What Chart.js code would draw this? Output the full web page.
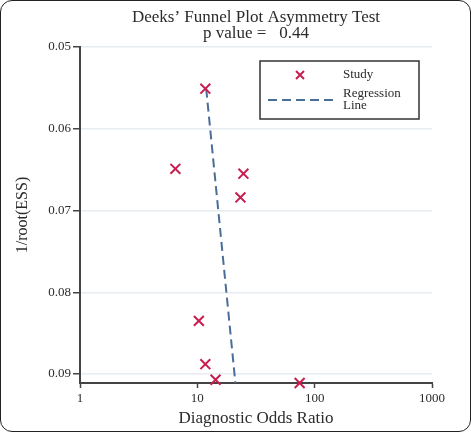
<!DOCTYPE html>
<html>
<head>
<meta charset="utf-8">
<script src="https://cdn.jsdelivr.net/npm/chart.js@4.4.0/dist/chart.umd.min.js"></script>
<style>
  body { margin: 0; background: #fff; }
  #wrap { position: relative; width: 471px; height: 432px; }
  #frame { position: absolute; left: 0; top: 0; width: 469px; height: 430px; border: 1px solid #222; border-radius: 12px; pointer-events: none; }
</style>
</head>
<body>
<div id="wrap">
  <canvas id="chart" width="471" height="432"></canvas>
  <div id="frame"></div>
</div>
<script>
// Deeks' funnel plot data
var studyDOR = [11.7, 6.5, 24.7, 23.3, 10.3, 11.7, 14.3, 74.5];
var studyInvRootESS = [0.0551, 0.0649, 0.0655, 0.0684, 0.0835, 0.0888, 0.0907, 0.0911];
var regressionDOR = [11.9, 21.1];
var regressionInvRootESS = [0.0551, 0.0911];
var xTicks = [1, 10, 100, 1000];
var yTicks = [0.05, 0.06, 0.07, 0.08, 0.09];
var titleLines = ["Deeks\u2019 Funnel Plot Asymmetry Test", "p value =   0.44"];

var serif = "'Liberation Serif', 'DejaVu Serif', serif";
var textColor = '#2b2b2b';
var studyColor = '#c81d4f';
var lineColor = '#4a6e98';

var studyPoints = studyDOR.map(function (x, i) { return { x: x, y: studyInvRootESS[i] }; });
var regressionPoints = regressionDOR.map(function (x, i) { return { x: x, y: regressionInvRootESS[i] }; });

// title + boxed legend, drawn on the canvas
var decorPlugin = {
  id: 'decor',
  afterDraw: function (chart) {
    var ctx = chart.ctx;
    var area = chart.chartArea;
    var cx = (area.left + area.right) / 2;
    ctx.save();
    ctx.fillStyle = textColor;
    ctx.font = '17px ' + serif;
    ctx.textAlign = 'center';
    ctx.textBaseline = 'middle';
    ctx.fillText(titleLines[0], cx, 18);
    ctx.fillText(titleLines[1], cx, 34);

    // legend box
    var bx = area.left + 180, by = area.top + 14, bw = 159, bh = 58;
    ctx.strokeStyle = '#333';
    ctx.lineWidth = 1.5;
    ctx.strokeRect(bx, by, bw, bh);

    // study marker
    ctx.strokeStyle = studyColor;
    ctx.lineWidth = 2;
    var mx = bx + 40, my = by + 14, r = 4;
    ctx.beginPath();
    ctx.moveTo(mx - r, my - r); ctx.lineTo(mx + r, my + r);
    ctx.moveTo(mx + r, my - r); ctx.lineTo(mx - r, my + r);
    ctx.stroke();

    // regression line sample
    ctx.strokeStyle = lineColor;
    ctx.setLineDash([9, 5]);
    ctx.beginPath();
    ctx.moveTo(bx + 8, by + 39);
    ctx.lineTo(bx + 73, by + 39);
    ctx.stroke();
    ctx.setLineDash([]);

    ctx.fillStyle = textColor;
    ctx.font = '13px ' + serif;
    ctx.textAlign = 'left';
    ctx.fillText('Study', bx + 83, my);
    ctx.fillText('Regression', bx + 83, by + 33);
    ctx.fillText('Line', bx + 83, by + 45);
    ctx.restore();
  }
};

var ctx = document.getElementById('chart').getContext('2d');
var chart = new Chart(ctx, {
  type: 'scatter',
  data: {
    datasets: [
      {
        label: 'Study',
        data: studyPoints,
        pointStyle: 'crossRot',
        pointRadius: 7,
        pointBorderWidth: 2,
        borderColor: studyColor,
        backgroundColor: studyColor,
        showLine: false,
        clip: false,
        order: 1
      },
      {
        label: 'Regression Line',
        data: regressionPoints,
        showLine: true,
        borderColor: lineColor,
        borderWidth: 2,
        borderDash: [9, 5],
        pointRadius: 0,
        fill: false,
        order: 2
      }
    ]
  },
  options: {
    responsive: false,
    animation: false,
    layout: { padding: { top: 47, right: 39, left: 0, bottom: 0 } },
    plugins: {
      legend: { display: false },
      title: { display: false },
      tooltip: { enabled: false }
    },
    scales: {
      x: {
        type: 'logarithmic',
        min: 1,
        max: 1000,
        afterBuildTicks: function (scale) {
          scale.ticks = xTicks.map(function (v) { return { value: v }; });
        },
        afterFit: function (scale) { scale.height = 49; },
        ticks: {
          autoSkip: false,
          maxRotation: 0,
          padding: 3,
          color: textColor,
          font: { family: serif, size: 13 },
          callback: function (v) { return String(v); }
        },
        grid: { drawOnChartArea: false, drawTicks: true, tickLength: 5, tickColor: '#444', tickWidth: 1.5 },
        border: { color: '#444', width: 2 },
        title: {
          display: true,
          text: 'Diagnostic Odds Ratio',
          color: textColor,
          font: { family: serif, size: 17 },
          padding: { top: 0, bottom: 3 }
        }
      },
      y: {
        reverse: true,
        min: 0.05,
        max: 0.0911,
        afterBuildTicks: function (scale) {
          scale.ticks = yTicks.map(function (v) { return { value: v }; });
        },
        afterFit: function (scale) { scale.width = 80; },
        ticks: {
          padding: 2,
          color: textColor,
          font: { family: serif, size: 13 },
          callback: function (v) { return Number(v).toFixed(2); }
        },
        grid: { color: '#e6ecef', lineWidth: 1.5, drawTicks: true, tickLength: 7, tickColor: '#444', tickWidth: 1.5 },
        border: { color: '#444', width: 2 },
        title: {
          display: true,
          text: '1/root(ESS)',
          color: textColor,
          font: { family: serif, size: 16 },
          padding: { top: 13, bottom: 0 }
        }
      }
    }
  },
  plugins: [decorPlugin]
});
</script>
</body>
</html>
